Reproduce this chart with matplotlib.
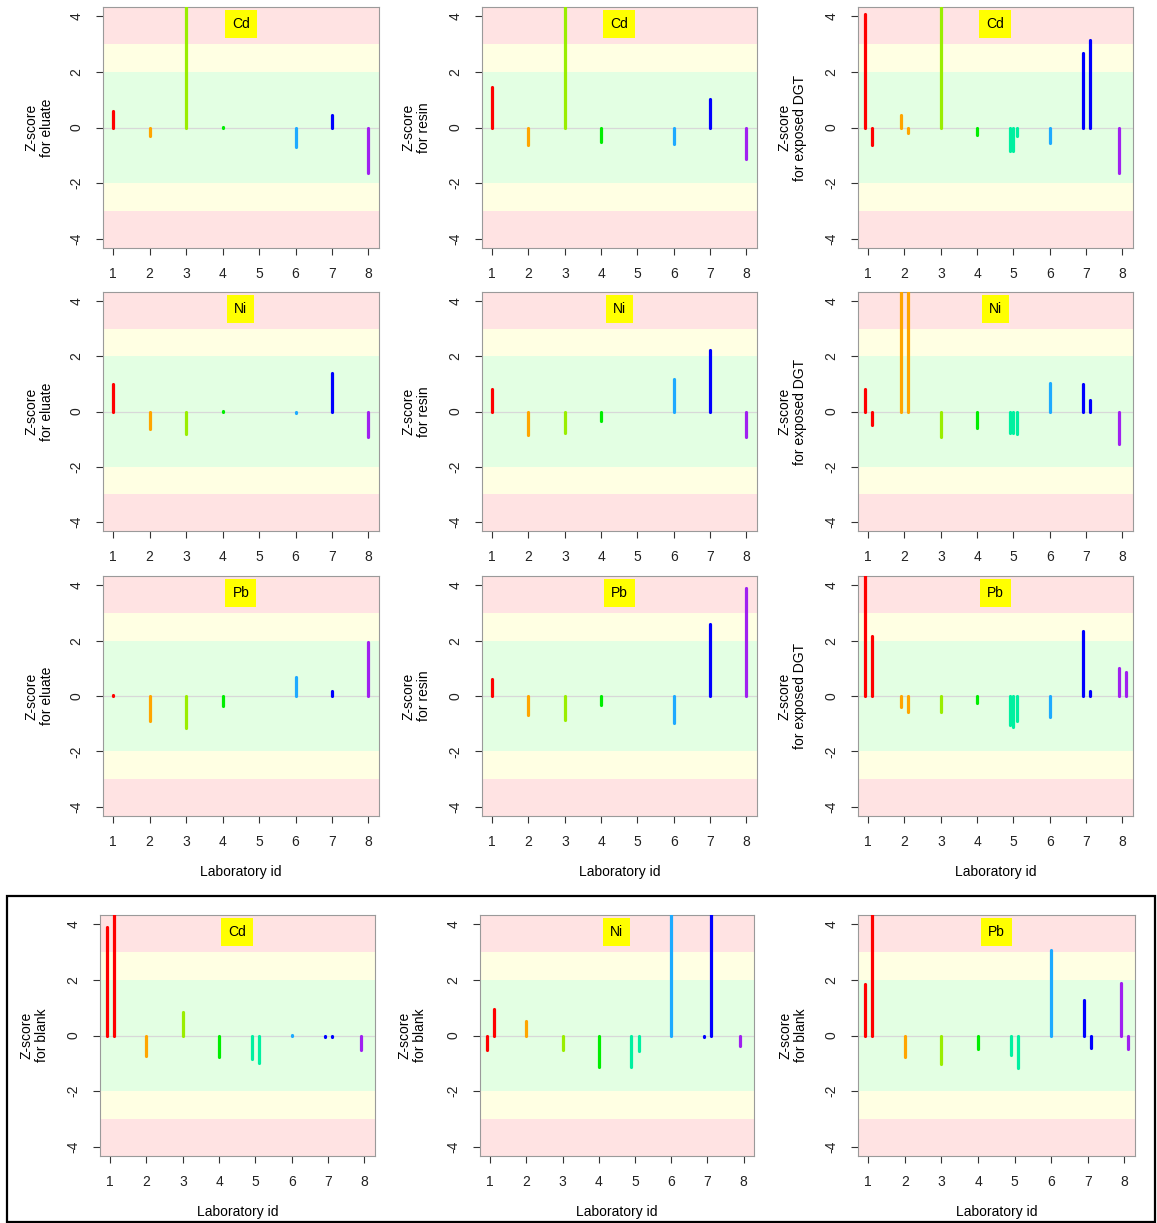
import matplotlib
matplotlib.use("Agg")
import matplotlib.pyplot as plt
from matplotlib.patches import Rectangle

plt.rcParams['font.family'] = ['Liberation Sans', 'DejaVu Sans']

W, H = 1157, 1223
DPI = 100

# ---------------- data ----------------
labs = [1, 2, 3, 4, 5, 6, 7, 8]
lab_colors = ["#FF0000", "#FFA500", "#9AEE00", "#00EE00",
              "#00F0A0", "#1EAAFF", "#0000FF", "#A020F0"]
xticks = [1, 2, 3, 4, 5, 6, 7, 8]
yticks = [-4, -2, 0, 2, 4]
metals = ["Cd", "Ni", "Pb"]
sources = ["eluate", "resin", "exposed DGT"]

# z-scores per laboratory (replicates listed; None = missing replicate)
cd_eluate = [[0.60], [-0.32], [5.0], [0.03], [], [-0.70], [0.46], [-1.62]]
cd_resin = [[1.44], [-0.62], [5.0], [-0.52], [], [-0.58], [1.02], [-1.14]]
cd_dgt = [[4.08, -0.64], [0.44, -0.18], [5.0], [-0.26], [-0.84, -0.84, -0.30],
          [-0.54], [2.68, 3.14], [-1.62, None]]
ni_eluate = [[0.98], [-0.64], [-0.82], [0.03], [], [-0.04], [1.41], [-0.93]]
ni_resin = [[0.82], [-0.84], [-0.77], [-0.34], [], [1.18], [2.23], [-0.93]]
ni_dgt = [[0.81, -0.49], [5.0, 5.0], [-0.92], [-0.60], [-0.77, -0.77, -0.81],
          [1.04], [1.01, 0.42], [-1.17, None]]
pb_eluate = [[0.03], [-0.90], [-1.14], [-0.35], [], [0.69], [0.19], [1.94]]
pb_resin = [[0.61], [-0.70], [-0.87], [-0.34], [], [-0.96], [2.58], [3.90]]
pb_dgt = [[5.0, 2.16], [-0.41, -0.58], [-0.58], [-0.25], [-1.06, -1.13, -0.92],
          [-0.77], [2.35, 0.17], [1.00, 0.86]]
cd_blank = [[3.90, 5.0], [-0.74], [0.85], [-0.76], [-0.84, -1.00], [0.03],
            [-0.05, -0.05], [-0.52, None]]
ni_blank = [[-0.52, 0.95], [0.52], [-0.52], [-1.12], [-1.12, -0.55], [5.0],
            [-0.05, 5.0], [-0.37, None]]
pb_blank = [[1.85, 5.0], [-0.79], [-1.02], [-0.48], [-0.70, -1.15], [3.06],
            [1.29, -0.46], [1.90, -0.48]]

grid_data = [[cd_eluate, cd_resin, cd_dgt],
             [ni_eluate, ni_resin, ni_dgt],
             [pb_eluate, pb_resin, pb_dgt]]
blank_data = [cd_blank, ni_blank, pb_blank]

# ---------------- layout (pixels) ----------------
cols_top = [(103, 379), (482, 757), (858, 1133)]
rows_top = [(7, 248), (292, 531), (576, 816)]
cols_blank = [(100, 375), (480, 754), (858, 1135)]
row_blank = (915, 1156)
ylab_x_top = [39, 416, 792]
ylab_x_blank = [34, 412, 793]

OFFSETS = {1: [0.0], 2: [-0.1, 0.1], 3: [-0.1, 0.0, 0.1]}

fig = plt.figure(figsize=(W / DPI, H / DPI), dpi=DPI)
fig.patch.set_facecolor("white")


def add_ax(x0, x1, y0, y1):
    return fig.add_axes([x0 / W, 1 - y1 / H, (x1 - x0) / W, (y1 - y0) / H])


def draw_panel(ax, data, metal):
    ax.set_xlim(0.72, 8.29)
    ax.set_ylim(-4.33, 4.33)
    # zone bands
    ax.axhspan(3, 10, color="#FFE3E3", lw=0, zorder=0)
    ax.axhspan(-10, -3, color="#FFE3E3", lw=0, zorder=0)
    ax.axhspan(2, 3, color="#FFFFE3", lw=0, zorder=0)
    ax.axhspan(-3, -2, color="#FFFFE3", lw=0, zorder=0)
    ax.axhspan(-2, 2, color="#E3FFE3", lw=0, zorder=0)
    ax.axhline(0, color="#D8D8D8", lw=0.9, zorder=1)
    for lab, col, vals in zip(labs, lab_colors, data):
        if not vals:
            continue
        offs = OFFSETS[len(vals)]
        for o, v in zip(offs, vals):
            if v is None:
                continue
            ax.plot([lab + o, lab + o], [0, v], color=col, lw=2.3,
                    solid_capstyle="round", zorder=3)
    ax.text(4.5, 3.71, metal, ha="center", va="center", fontsize=10, zorder=5,
            bbox=dict(boxstyle="square,pad=0.5", fc="#FFFF00", ec="none"))
    ax.set_xticks(xticks)
    ax.set_xticklabels([str(t) for t in xticks])
    ax.set_yticks(yticks)
    ax.set_yticklabels([str(t) for t in yticks], rotation=90, va="center")
    ax.tick_params(length=5, width=0.8, pad=9, labelsize=10, color="#333333",
                   labelcolor="#222222")
    for s in ax.spines.values():
        s.set_color("#9A9A9A")
        s.set_linewidth(0.8)


for r in range(3):
    for c in range(3):
        (x0, x1), (y0, y1) = cols_top[c], rows_top[r]
        ax = add_ax(x0, x1, y0, y1)
        draw_panel(ax, grid_data[r][c], metals[r])
        fig.text(ylab_x_top[c] / W, 1 - ((y0 + y1) / 2) / H,
                 "Z-score\nfor " + sources[c], rotation=90, ha="center",
                 va="center", fontsize=10, linespacing=1.15)
        if r == 2:
            fig.text(((x0 + x1) / 2) / W, 1 - 872 / H, "Laboratory id",
                     ha="center", va="center", fontsize=10)

for c in range(3):
    (x0, x1), (y0, y1) = cols_blank[c], row_blank
    ax = add_ax(x0, x1, y0, y1)
    draw_panel(ax, blank_data[c], metals[c])
    fig.text(ylab_x_blank[c] / W, 1 - ((y0 + y1) / 2) / H,
             "Z-score\nfor blank", rotation=90, ha="center", va="center",
             fontsize=10, linespacing=1.15)
    fig.text(((x0 + x1) / 2) / W, 1 - 1212 / H, "Laboratory id",
             ha="center", va="center", fontsize=10)

# frame around the blank row
fig.add_artist(Rectangle((7 / W, 1 - 1222 / H), (1155 - 7) / W, (1222 - 896) / H,
                         transform=fig.transFigure, fill=False, lw=1.6,
                         ec="black"))

fig.savefig("out.png", dpi=DPI)
